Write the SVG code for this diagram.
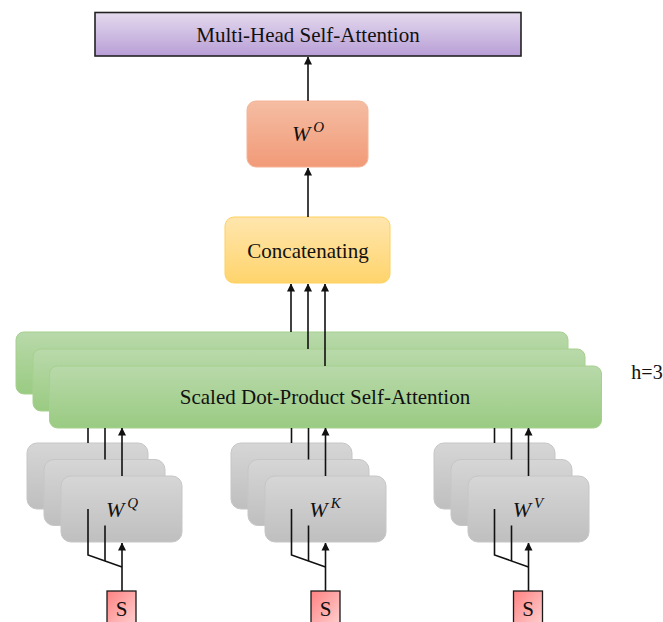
<svg xmlns="http://www.w3.org/2000/svg" width="663" height="622" viewBox="0 0 663 622">
<defs>
<linearGradient id="gPurple" x1="0" y1="0" x2="0" y2="1"><stop offset="0" stop-color="#e4daee"/><stop offset="1" stop-color="#b89ed6"/></linearGradient>
<linearGradient id="gOrange" x1="0" y1="0" x2="0" y2="1"><stop offset="0" stop-color="#f5bda3"/><stop offset="1" stop-color="#f19a78"/></linearGradient>
<linearGradient id="gYellow" x1="0" y1="0" x2="0" y2="1"><stop offset="0" stop-color="#ffe6ae"/><stop offset="1" stop-color="#ffd46c"/></linearGradient>
<linearGradient id="gGreen" x1="0" y1="0" x2="0" y2="1"><stop offset="0" stop-color="#b9d9aa"/><stop offset="1" stop-color="#9acb82"/></linearGradient>
<linearGradient id="gGray" x1="0" y1="0" x2="0" y2="1"><stop offset="0" stop-color="#d6d6d6"/><stop offset="1" stop-color="#bfbfbf"/></linearGradient>
<linearGradient id="gPink" x1="0" y1="0" x2="1" y2="1"><stop offset="0" stop-color="#ff8282"/><stop offset="1" stop-color="#ffd0d0"/></linearGradient>
<marker id="arr" viewBox="0 0 8 10" refX="7.5" refY="5" markerWidth="8" markerHeight="10" markerUnits="userSpaceOnUse" orient="auto"><path d="M0,1 L8,5 L0,9 Z" fill="#111"/></marker>
</defs>
<style>
text{font-family:'Liberation Serif','DejaVu Serif',serif;fill:#111;text-anchor:middle}
.m{font-style:italic}
.green{fill:url(#gGreen);stroke:#a6d08e;stroke-width:1}
.gray{fill:url(#gGray);stroke:#c6c6c6;stroke-width:1}
.pink{fill:url(#gPink);stroke:#1a1a1a;stroke-width:1.3}
.ln{stroke:#111;stroke-width:1.6;fill:none}
.ar{stroke:#111;stroke-width:1.6;fill:none;marker-end:url(#arr)}
</style>

<g id="mhsa">
<rect x="95" y="12.5" width="426" height="43.5" fill="url(#gPurple)" stroke="#222" stroke-width="1.6"/>
<text x="308" y="42" font-size="21" font-family="Liberation Serif, serif">Multi-Head Self-Attention</text>
</g>

<g id="wo">
<rect x="247" y="101" width="121" height="66" rx="9" fill="url(#gOrange)" stroke="#f5b498" stroke-width="1"/>
<text class="m" x="308" y="141" font-size="22" font-family="Liberation Serif, serif">W<tspan font-size="15" dx="3" dy="-9">O</tspan></text>
</g>

<g id="concat">
<rect x="225" y="217" width="165" height="66" rx="9" fill="url(#gYellow)" stroke="#ffd15c" stroke-width="1"/>
<text x="308" y="258" font-size="21" font-family="Liberation Serif, serif">Concatenating</text>
</g>

<g id="sdpa">
<rect class="green" x="16" y="332" width="552" height="62" rx="8"/>
<rect class="green" x="33" y="349" width="552" height="62" rx="8"/>
<rect class="green" x="49.5" y="366" width="552" height="62" rx="8"/>
<text x="325" y="404" font-size="21" font-family="Liberation Serif, serif">Scaled Dot-Product Self-Attention</text>
</g>

<g id="h3">
<text x="647" y="379" font-size="20" font-family="Liberation Serif, serif">h=3</text>
</g>

<g id="wq">
<rect class="gray" x="27" y="443" width="121" height="66" rx="10"/>
<rect class="gray" x="44" y="459.5" width="121" height="66" rx="10"/>
<rect class="gray" x="61" y="476" width="121" height="66" rx="10"/>
<text class="m" x="122" y="517" font-size="22" font-family="Liberation Serif, serif">W<tspan font-size="15" dx="3" dy="-9">Q</tspan></text>
</g>

<g id="wk">
<rect class="gray" x="231" y="443" width="121" height="66" rx="10"/>
<rect class="gray" x="248" y="459.5" width="121" height="66" rx="10"/>
<rect class="gray" x="265" y="476" width="121" height="66" rx="10"/>
<text class="m" x="325" y="517" font-size="22" font-family="Liberation Serif, serif">W<tspan font-size="15" dx="3" dy="-9">K</tspan></text>
</g>

<g id="wv">
<rect class="gray" x="434" y="443" width="121" height="66" rx="10"/>
<rect class="gray" x="451" y="459.5" width="121" height="66" rx="10"/>
<rect class="gray" x="468" y="476" width="121" height="66" rx="10"/>
<text class="m" x="528" y="517" font-size="22" font-family="Liberation Serif, serif">W<tspan font-size="15" dx="3" dy="-9">V</tspan></text>
</g>

<g id="sq"><rect class="pink" x="107" y="591" width="29" height="34"/><text x="121.5" y="616" font-size="21" font-family="Liberation Serif, serif">S</text></g>
<g id="sk"><rect class="pink" x="311" y="591" width="29" height="34"/><text x="325.5" y="616" font-size="21" font-family="Liberation Serif, serif">S</text></g>
<g id="sv"><rect class="pink" x="513.5" y="591" width="29" height="34"/><text x="528" y="616" font-size="21" font-family="Liberation Serif, serif">S</text></g>

<g id="connectors">
<line class="ar" x1="308" y1="101" x2="308" y2="57"/>
<line class="ar" x1="308" y1="217" x2="308" y2="168"/>
<line class="ar" x1="291" y1="332" x2="291" y2="284"/>
<line class="ar" x1="308" y1="349" x2="308" y2="284"/>
<line class="ar" x1="325" y1="366" x2="325" y2="284"/>

<line class="ln" x1="88" y1="443" x2="88" y2="428"/>
<line class="ln" x1="105" y1="459.5" x2="105" y2="428"/>
<line class="ar" x1="122" y1="476" x2="122" y2="428"/>
<line class="ar" x1="122" y1="591" x2="122" y2="543"/>
<polyline class="ln" points="122,567 88,555 88,509"/>
<line class="ln" x1="105" y1="561" x2="105" y2="525.5"/>

<line class="ln" x1="291.5" y1="443" x2="291.5" y2="428"/>
<line class="ln" x1="308.5" y1="459.5" x2="308.5" y2="428"/>
<line class="ar" x1="325.5" y1="476" x2="325.5" y2="428"/>
<line class="ar" x1="325.5" y1="591" x2="325.5" y2="543"/>
<polyline class="ln" points="325.5,567 291.5,555 291.5,509"/>
<line class="ln" x1="308.5" y1="561" x2="308.5" y2="525.5"/>

<line class="ln" x1="494.5" y1="443" x2="494.5" y2="428"/>
<line class="ln" x1="511.5" y1="459.5" x2="511.5" y2="428"/>
<line class="ar" x1="528.5" y1="476" x2="528.5" y2="428"/>
<line class="ar" x1="528.5" y1="591" x2="528.5" y2="543"/>
<polyline class="ln" points="528.5,567 494.5,555 494.5,509"/>
<line class="ln" x1="511.5" y1="561" x2="511.5" y2="525.5"/>
</g>
</svg>
